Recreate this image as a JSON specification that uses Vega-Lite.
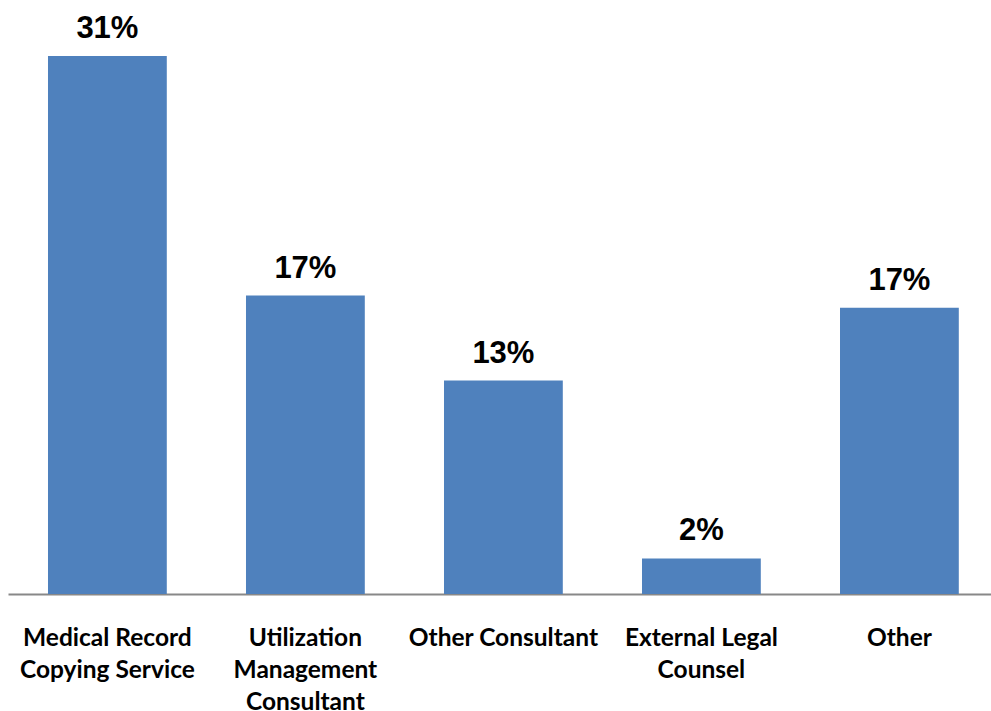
{
  "$schema": "https://vega.github.io/schema/vega-lite/v6.json",
  "width": 983,
  "height": 590,
  "padding": {"left": 8, "top": 4, "right": 0, "bottom": 117},
  "autosize": {"type": "none"},
  "background": "white",
  "config": {"view": {"stroke": null}},
  "data": {
    "values": [
      {"category": "Medical Record|Copying Service", "value": 31.0, "label": "31%"},
      {"category": "Utilization|Management|Consultant", "value": 17.2, "label": "17%"},
      {"category": "Other Consultant", "value": 12.3, "label": "13%"},
      {"category": "External Legal|Counsel", "value": 2.05, "label": "2%"},
      {"category": "Other", "value": 16.5, "label": "17%"}
    ]
  },
  "encoding": {
    "x": {
      "field": "category",
      "type": "nominal",
      "sort": null,
      "scale": {"paddingInner": 0.4, "paddingOuter": 0.1823, "align": 0.554},
      "axis": {
        "title": null,
        "labelAngle": 0,
        "labelExpr": "split(datum.label, '|')",
        "labelFont": "Lato",
        "labelFontWeight": "bold",
        "labelFontSize": 24.5,
        "labelColor": "black",
        "labelLineHeight": 32,
        "labelPadding": 32,
        "labelBaseline": "top",
        "labelLimit": 0,
        "ticks": false,
        "domainColor": "#888888",
        "domainWidth": 2
      }
    },
    "y": {
      "field": "value",
      "type": "quantitative",
      "scale": {"domain": [0, 34], "nice": false},
      "axis": null
    }
  },
  "layer": [
    {"mark": {"type": "bar", "color": "#4F81BD"}},
    {
      "mark": {
        "type": "text",
        "baseline": "alphabetic",
        "dy": -18,
        "font": "Liberation Sans",
        "fontWeight": "bold",
        "fontSize": 31,
        "color": "black"
      },
      "encoding": {"text": {"field": "label"}}
    }
  ]
}
